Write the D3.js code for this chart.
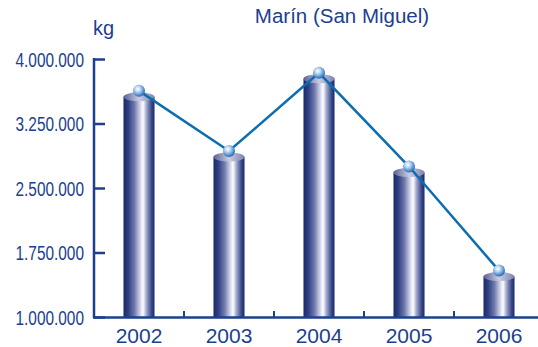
<!DOCTYPE html>
<html><head><meta charset="utf-8">
<script src="https://cdn.jsdelivr.net/npm/d3@7"></script>
<style>body{margin:0;background:#fff}svg{display:block}</style>
</head><body>
<svg id="c" width="538" height="347"></svg>
<script>
const years = ["2002","2003","2004","2005","2006"];
const values = [3560000, 2860000, 3770000, 2680000, 1470000];
const yTicks = [1000000, 1750000, 2500000, 3250000, 4000000];
const title = "Marín (San Miguel)";
const unit = "kg";

const svg = d3.select("#c");
const axisColor = "#1c3f8f";
const font = "'Liberation Sans', Arial, sans-serif";

const x = d3.scaleBand().domain(years).range([94, 544]).paddingInner(0.655).paddingOuter(0.3275);
const y = d3.scaleLinear().domain([1000000, 4000000]).range([317, 59]);
const fmt = v => d3.format(",")(v).replace(/,/g, ".");

const defs = svg.append("defs");
const g1 = defs.append("linearGradient").attr("id","cyl").attr("x1","0").attr("x2","1").attr("y1","0").attr("y2","0");
[[0,"#1a2966"],[0.15,"#2e3f82"],[0.35,"#6e78ab"],[0.55,"#d8dcee"],[0.63,"#ffffff"],[0.75,"#9aa1c8"],[0.9,"#3a4a8a"],[1,"#1a2966"]]
  .forEach(([o,c]) => g1.append("stop").attr("offset",o).attr("stop-color",c));
const g2 = defs.append("linearGradient").attr("id","top").attr("x1","0").attr("x2","1").attr("y1","0").attr("y2","0");
[[0,"#5a6196"],[0.5,"#c9cce2"],[1,"#7d83b0"]].forEach(([o,c]) => g2.append("stop").attr("offset",o).attr("stop-color",c));
const g3 = defs.append("radialGradient").attr("id","ball").attr("cx","0.4").attr("cy","0.35").attr("r","0.65");
[[0,"#ffffff"],[0.35,"#bcd6f0"],[0.8,"#4a8ccc"],[1,"#2a6aaa"]].forEach(([o,c]) => g3.append("stop").attr("offset",o).attr("stop-color",c));

// bars (cylinders)
const bw = x.bandwidth();
const ry = 4.5;
const bars = svg.append("g");
years.forEach((yr, i) => {
  const x0 = x(yr), top = y(values[i]);
  bars.append("rect").attr("x", x0).attr("y", top).attr("width", bw).attr("height", y(1000000) - top).attr("fill","url(#cyl)");
  bars.append("ellipse").attr("cx", x0 + bw/2).attr("cy", top).attr("rx", bw/2).attr("ry", ry).attr("fill","url(#top)");
});

// axes
const yAxis = d3.axisRight(y).tickValues(yTicks).tickSize(11).tickFormat("");
const ya = svg.append("g").attr("transform","translate(94,0)").call(yAxis);
ya.select(".domain").attr("stroke", axisColor).attr("stroke-width", 2.5).attr("d", "M0,58V318");
ya.selectAll(".tick line").attr("stroke", axisColor).attr("stroke-width", 2.5);
svg.append("g").selectAll("text").data(yTicks).join("text")
  .attr("transform", d => `translate(84,${y(d) + 7.5}) scale(0.79,1)`).attr("text-anchor","end")
  .attr("font-family", font).attr("font-size", 19.5).attr("fill", axisColor)
  .text(fmt);

// x axis
svg.append("line").attr("x1", 93).attr("x2", 538).attr("y1", 317.5).attr("y2", 317.5).attr("stroke", axisColor).attr("stroke-width", 2.5);
const bounds = years.slice(1).map(yr => x(yr) - x.step()*x.paddingInner()/2);
svg.append("g").selectAll("line").data(bounds).join("line")
  .attr("x1", d => d).attr("x2", d => d).attr("y1", 317).attr("y2", 311).attr("stroke", axisColor).attr("stroke-width", 2);
svg.append("g").selectAll("text").data(years).join("text")
  .attr("x", d => x(d) + bw/2).attr("y", 343).attr("text-anchor","middle")
  .attr("font-family", font).attr("font-size", 21).attr("fill", axisColor).text(d => d);

// line
const cx = i => x(years[i]) + bw/2;
const line = d3.line().x((d,i) => cx(i)).y(d => y(d) - 6);
svg.append("path").datum(values).attr("d", line).attr("fill","none").attr("stroke","#0c6db3").attr("stroke-width", 2.5);
svg.append("g").selectAll("circle").data(values).join("circle")
  .attr("cx", (d,i) => cx(i)).attr("cy", d => y(d) - 6).attr("r", 6).attr("fill","url(#ball)");

// titles
svg.append("text").attr("x", 342).attr("y", 23).attr("text-anchor","middle")
  .attr("font-family", font).attr("font-size", 20.5).attr("fill", axisColor).text(title);
svg.append("text").attr("x", 93).attr("y", 35)
  .attr("font-family", font).attr("font-size", 20).attr("fill", axisColor).text(unit);
</script>
</body></html>
